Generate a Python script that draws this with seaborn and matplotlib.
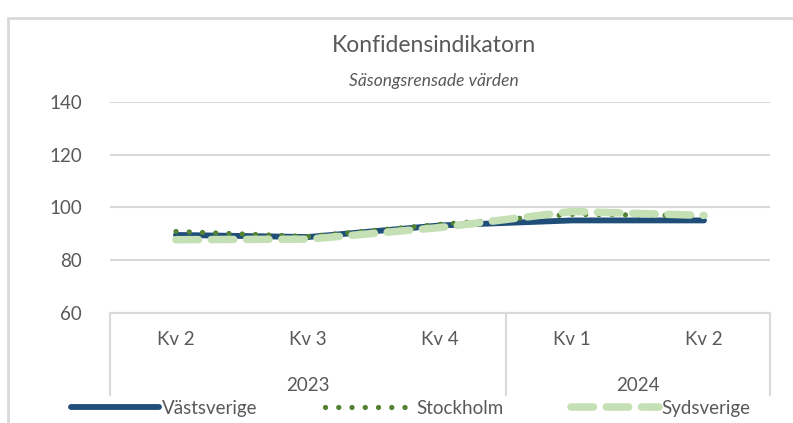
import pandas as pd
import seaborn as sns
import matplotlib.pyplot as plt
from matplotlib.lines import Line2D
from matplotlib.patches import Rectangle

# data
kvartal = ["Kv 2", "Kv 3", "Kv 4", "Kv 1", "Kv 2"]
ar = ["2023", "2023", "2023", "2024", "2024"]
vastsverige = [89.6, 88.8, 93.2, 95.1, 95.1]
stockholm = [90.9, 89.0, 93.6, 97.4, 96.9]
sydsverige = [87.8, 88.0, 92.4, 98.5, 97.0]

serier = {"Västsverige": vastsverige, "Stockholm": stockholm, "Sydsverige": sydsverige}
rows = []
for namn, vals in serier.items():
    for i, v in enumerate(vals):
        rows.append({"pos": i, "Serie": namn, "Värde": v})
df = pd.DataFrame(rows)

sns.set_theme(style="white")
plt.rcParams["font.family"] = ["Lato", "DejaVu Sans"]
GRA = "#595959"
FS = 13.5

fig = plt.figure(figsize=(7.93, 4.23), dpi=100)
ax = fig.add_axes([110 / 793, 1 - 313 / 423, 660 / 793, 211 / 423])

stilar = {
    "Västsverige": dict(color="#1F4E79", linewidth=4.2, solid_capstyle="round"),
    "Stockholm": dict(color="#548235", linewidth=3.8, linestyle=(0, (0.01, 2.5)),
                      dash_capstyle="round"),
    "Sydsverige": dict(color="#C5E0B4", linewidth=5.4, linestyle=(0, (3.0, 1.7)),
                       dash_capstyle="round"),
}
for namn in serier:
    sns.lineplot(data=df[df["Serie"] == namn], x="pos", y="Värde", ax=ax,
                 legend=False, **stilar[namn])

ax.set_xlim(-0.5, 4.5)
ax.set_ylim(60, 140)
ax.set_yticks([60, 80, 100, 120, 140])
ax.yaxis.grid(True, color="#D9D9D9", linewidth=1.5)
ax.set_axisbelow(True)
for s in ["top", "right", "left"]:
    ax.spines[s].set_visible(False)
ax.spines["bottom"].set_color("#D9D9D9")
ax.spines["bottom"].set_linewidth(1.5)
ax.tick_params(axis="y", length=0, labelsize=FS, labelcolor=GRA, pad=20)
ax.set_xticks(range(len(kvartal)))
ax.set_xticklabels(kvartal)
ax.tick_params(axis="x", length=0, labelsize=FS, labelcolor=GRA, pad=13)
ax.set_xlabel("")
ax.set_ylabel("")

# kategoriaxelns ramar och årtal
trans = ax.get_xaxis_transform()
for xpos in [-0.5, 2.5, 4.5]:
    ax.add_line(Line2D([xpos, xpos], [0, -0.39], transform=trans, color="#D9D9D9",
                       linewidth=1.5, clip_on=False))
ax.text(1.0, -0.345, "2023", transform=trans, ha="center", va="center",
        fontsize=FS, color=GRA)
ax.text(3.5, -0.345, "2024", transform=trans, ha="center", va="center",
        fontsize=FS, color=GRA)

fig.text(0.547, 1 - 45 / 423, "Konfidensindikatorn", ha="center", va="center",
         fontsize=16.5, color=GRA)
fig.text(0.547, 1 - 81 / 423, "Säsongsrensade värden", ha="center", va="center",
         fontsize=12.5, style="italic", color=GRA)

handles = [Line2D([], [], **stilar[n]) for n in serier]
fig.legend(handles, list(serier.keys()), loc="center", bbox_to_anchor=(0.518, 1 - 408 / 423),
           ncol=3, frameon=False, handlelength=4.7, columnspacing=3.6, handletextpad=0.15,
           fontsize=FS, labelcolor=GRA)

fig.patches.append(Rectangle((8 / 793, -0.05), 1.1, 1 - 18 / 423 + 0.05,
                             transform=fig.transFigure, fill=False,
                             edgecolor="#D9D9D9", linewidth=2))

fig.savefig("out.png", dpi=100)
